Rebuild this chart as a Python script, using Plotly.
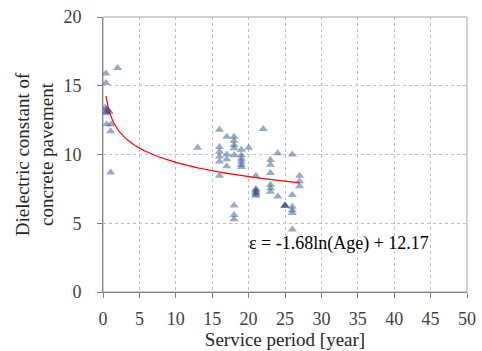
import numpy as np
import plotly.graph_objects as go

# Measured points: service period (years) and dielectric constant
age = [0.4, 0.4, 2.0,
       0.3, 0.5, 0.7, 0.9, 0.5, 0.4,
       0.5, 1.1, 1.05, 1.05,
       13,
       16, 16, 16, 16, 16, 16,
       17, 17, 17, 17,
       18, 18, 18, 18, 18, 18, 18, 18,
       19, 19, 19, 19, 19, 19,
       20,
       21, 21, 21, 21, 21, 21, 21,
       22,
       23, 23, 23, 23, 23, 23,
       24, 24,
       25, 25, 25,
       26, 26, 26, 26, 26, 26,
       27, 27, 27]
eps = [15.9, 15.2, 16.3,
       13.4, 13.3, 13.2, 13.1, 13.0, 13.1,
       12.2, 12.2, 11.7, 8.7,
       10.5,
       11.8, 10.55, 10.2, 9.85, 9.5, 8.45,
       11.3, 10.0, 9.65, 9.15,
       11.3, 11.0, 10.7, 10.45, 9.95, 6.3, 5.6, 5.3,
       10.35, 9.95, 9.7, 9.5, 9.25, 9.1,
       10.5,
       8.45, 7.5, 7.4, 7.3, 7.2, 7.1, 7.0,
       11.85,
       9.6, 9.25, 8.65, 7.8, 7.55, 7.3,
       10.1, 6.95,
       6.3, 6.3, 6.25,
       10.0, 7.05, 6.2, 5.95, 5.75, 4.55,
       8.45, 8.05, 7.7]

# Logarithmic trend curve as drawn
trend_a = 12.88
trend_b = 1.5
trend_start, trend_end = 0.4, 27.0
eq_text = "ε = -1.68ln(Age) + 12.17"

x_ticks = list(range(0, 51, 5))
y_ticks = list(range(0, 21, 5))

xt = np.linspace(trend_start, trend_end, 300)
yt = trend_a - trend_b * np.log(xt)

font_family = "Liberation Serif"
tick_font = dict(family=font_family, size=18, color="#404040")

fig = go.Figure()
fig.add_trace(go.Scatter(
    x=age, y=eps, mode="markers",
    marker=dict(symbol="triangle-up", size=8, color="rgb(40,80,135)",
                opacity=0.48, line=dict(width=0)),
    showlegend=False, hoverinfo="skip"))
fig.add_trace(go.Scatter(
    x=xt, y=yt, mode="lines",
    line=dict(color="#ff0000", width=1.2),
    showlegend=False, hoverinfo="skip"))

fig.add_annotation(x=19.8, y=3.55, xref="x", yref="y", text=eq_text,
                   showarrow=False, xanchor="left", yanchor="middle",
                   font=dict(family=font_family, size=18, color="#000"))

# plot area border
fig.add_shape(type="rect", xref="paper", yref="paper", x0=0, y0=0, x1=1, y1=1,
              line=dict(color="#a6a6a6", width=1), layer="below")

axis_common = dict(
    showline=True, linecolor="#7f7f7f", linewidth=1,
    ticks="outside", ticklen=5, tickcolor="#7f7f7f",
    showgrid=True, gridcolor="#bfbfbf", griddash="dot", gridwidth=1,
    zeroline=False, automargin=False,
)

fig.update_xaxes(range=[0, 50], tickvals=x_ticks, **axis_common,
                 tickfont=tick_font, ticklabelstandoff=5,
                 title=dict(text="Service period [year]", standoff=5,
                            font=dict(family=font_family, size=19, color="#262626")))
fig.update_yaxes(range=[0, 20], tickvals=y_ticks, **axis_common,
                 tickfont=tick_font, ticklabelstandoff=12,
                 title=dict(text="Dielectric constant of<br>concrete pavement", standoff=4,
                            font=dict(family=font_family, size=19, color="#262626")))

fig.update_layout(
    width=482, height=351,
    margin=dict(l=103, r=15, t=17, b=59),
    paper_bgcolor="white", plot_bgcolor="white",
    font=dict(family=font_family, size=18),
)

fig.write_html("out.html")
